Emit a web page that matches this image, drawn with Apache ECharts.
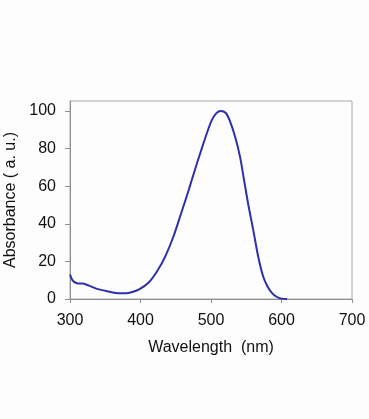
<!DOCTYPE html>
<html>
<head>
<meta charset="utf-8">
<script src="https://cdn.jsdelivr.net/npm/echarts@6/dist/echarts.min.js"></script>
<style>
html,body{margin:0;padding:0;background:#fdfdfd;}
#chart{width:369px;height:419px;}
</style>
</head>
<body>
<div id="chart"></div>
<script>
const wavelength = [300,304,311,318,327,337,351,365,375,386,398,412,424,435,447,458,468,477,486,494,501,508,514,521,527,534,541,547,553,560,567,574,580,586,593,600,608];
const absorbance = [13,9.7,8.3,8.2,7.1,5.5,4.3,3.2,3.0,3.5,5.1,8.9,15,22.5,33.5,46,57.5,68.5,79,88,95,99,100,98.9,94.5,86.5,76,63,50,36.5,22.5,12,6.8,3.4,1.2,0.2,0];
const xTicks = [300,400,500,600,700];
const yTicks = [0,20,40,60,80,100];
const xName = 'Wavelength  (nm)';
const yName = 'Absorbance ( a. u.)';

const chart = echarts.init(document.getElementById('chart'), null, {renderer:'canvas'});
const font = 'Liberation Sans, Arial, sans-serif';
chart.setOption({
  backgroundColor:'#fdfdfd',
  animation:false,
  grid:{left:70,right:17,top:101,bottom:120,containLabel:false,outerBoundsMode:'none',show:true,borderColor:'#a8a8a8',borderWidth:1,backgroundColor:'transparent'},
  xAxis:{
    type:'value',min:300,max:700,interval:100,
    name:xName,nameLocation:'middle',nameGap:41,
    nameTextStyle:{fontFamily:font,fontSize:16,color:'#111'},
    axisLine:{show:true,onZero:false,lineStyle:{color:'#909090',width:1}},
    axisTick:{show:true,length:4,inside:false,customValues:xTicks,lineStyle:{color:'#909090'}},
    axisLabel:{fontFamily:font,fontSize:16,color:'#111',margin:14,customValues:xTicks},
    splitLine:{show:false}
  },
  yAxis:{
    type:'value',min:0,max:105.3,interval:20,
    name:yName,nameLocation:'middle',nameGap:47,nameRotate:90,
    nameTextStyle:{fontFamily:font,fontSize:16,color:'#111'},
    axisLine:{show:true,lineStyle:{color:'#909090',width:1}},
    axisTick:{show:true,length:5,inside:false,customValues:yTicks,lineStyle:{color:'#909090'}},
    axisLabel:{fontFamily:font,fontSize:16,color:'#111',margin:14,customValues:yTicks},
    splitLine:{show:false}
  },
  series:[{
    type:'line',
    data:wavelength.map((w,i)=>[w,absorbance[i]]),
    smooth:0.3,
    showSymbol:false,
    lineStyle:{color:'#2f2fae',width:2}
  }]
});
</script>
</body>
</html>
